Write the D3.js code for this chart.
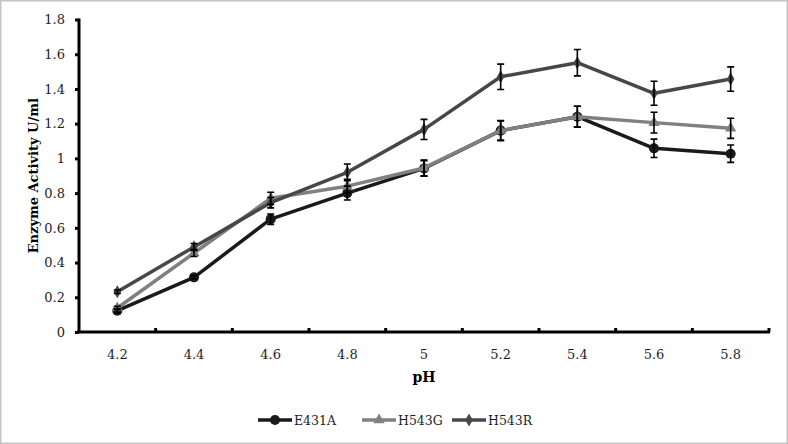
<!DOCTYPE html>
<html>

<head>
  <title>Enzyme activity vs pH</title>
  <script src="https://cdn.jsdelivr.net/npm/d3@7"></script>
  <style>
    body { margin: 0; background: #fff; }
    text { font-family: "DejaVu Serif", serif; }
  </style>
</head>

<body>
  <svg width="788" height="444" id="mainsvg"></svg>
  <script>
    const phs = ['4.2', '4.4', '4.6', '4.8', '5', '5.2', '5.4', '5.6', '5.8'];
    const yTicks = [0, 0.2, 0.4, 0.6, 0.8, 1, 1.2, 1.4, 1.6, 1.8];
    const seriesNames = ['E431A', 'H543G', 'H543R'];

    const e431a = [0.123, 0.315, 0.65, 0.80, 0.942, 1.16, 1.24, 1.058, 1.027];
    const e431aErr = [0.01, 0.01, 0.03, 0.04, 0.045, 0.055, 0.06, 0.053, 0.05];
    const h543g = [0.138, 0.455, 0.77, 0.84, 0.945, 1.16, 1.24, 1.206, 1.173];
    const h543gErr = [0.01, 0.02, 0.035, 0.04, 0.046, 0.058, 0.06, 0.06, 0.058];
    const h543r = [0.232, 0.49, 0.745, 0.92, 1.167, 1.47, 1.551, 1.375, 1.457];
    const h543rErr = [0.01, 0.02, 0.03, 0.048, 0.058, 0.073, 0.076, 0.069, 0.07];

    const colors = ['#1a1a1a', '#808080', '#474747'];
    const symbols = [d3.symbolCircle, d3.symbolTriangle, d3.symbolDiamond];
    const symSizes = [80, 55, 50];

    const svg = d3.select('#mainsvg');
    const width = +svg.attr('width');
    const height = +svg.attr('height');

    svg.append('rect')
      .attr('x', 0.75).attr('y', 0.75)
      .attr('width', width - 1.5).attr('height', height - 1.5)
      .attr('fill', '#fff').attr('stroke', '#c4c4c4').attr('stroke-width', 1.5);

    const pLeft = 79, pRight = 769, pTop = 19.5, pBottom = 332;

    const x = d3.scaleBand().domain(phs).range([pLeft, pRight]);
    const y = d3.scaleLinear().domain([0, 1.8]).range([pBottom, pTop]);

    // y axis
    const yAxis = svg.append('g')
      .attr('transform', `translate(${pLeft},0)`)
      .call(d3.axisLeft(y).tickValues(yTicks).tickSize(4).tickPadding(10)
        .tickFormat(d => String(+d.toFixed(1))));
    yAxis.select('.domain').attr('stroke', '#000').attr('stroke-width', 3)
      .attr('d', `M0,${pTop - 1}V${pBottom}`);
    yAxis.selectAll('.tick line').attr('stroke', '#000').attr('stroke-width', 3);
    yAxis.selectAll('.tick text').attr('font-size', 13).attr('fill', '#1e1e1e')
      .attr('font-family', '"DejaVu Serif", serif');

    // x axis
    const xAxis = svg.append('g')
      .attr('transform', `translate(0,${pBottom})`)
      .call(d3.axisBottom(x).tickSize(0).tickPadding(18));
    xAxis.select('.domain').attr('stroke', '#000').attr('stroke-width', 3)
      .attr('d', `M${pLeft - 2},0H${pRight + 1}`);
    xAxis.selectAll('.tick text').attr('font-size', 13).attr('fill', '#1e1e1e')
      .attr('font-family', '"DejaVu Serif", serif');
    xAxis.selectAll('.bnd')
      .data(phs.map(p => x(p) + x.bandwidth()))
      .join('line')
      .attr('class', 'bnd')
      .attr('x1', d => d).attr('x2', d => d)
      .attr('y1', -4).attr('y2', 0)
      .attr('stroke', '#000').attr('stroke-width', 3);

    // axis titles
    svg.append('text')
      .attr('transform', `translate(38,${(pTop + pBottom) / 2}) rotate(-90)`)
      .attr('text-anchor', 'middle')
      .attr('font-weight', 'bold').attr('font-size', 13)
      .text('Enzyme Activity U/ml');
    svg.append('text')
      .attr('x', (pLeft + pRight) / 2).attr('y', 382)
      .attr('text-anchor', 'middle')
      .attr('font-weight', 'bold').attr('font-size', 14)
      .text('pH');

    const series = [
      { name: seriesNames[0], vals: e431a, err: e431aErr },
      { name: seriesNames[1], vals: h543g, err: h543gErr },
      { name: seriesNames[2], vals: h543r, err: h543rErr }
    ];
    const cx = p => x(p) + x.bandwidth() / 2;

    const line = d3.line().x((d, i) => cx(phs[i])).y(d => y(d));

    series.forEach((s, k) => {
      const g = svg.append('g');
      g.append('path')
        .attr('d', line(s.vals))
        .attr('fill', 'none')
        .attr('stroke', colors[k])
        .attr('stroke-width', 3.5)
        .attr('stroke-linejoin', 'round');
      g.selectAll('.mark')
        .data(s.vals)
        .join('path')
        .attr('class', 'mark')
        .attr('transform', (d, i) => `translate(${cx(phs[i])},${y(d)})`)
        .attr('d', d3.symbol().type(symbols[k]).size(symSizes[k]))
        .attr('fill', colors[k]);
    });

    // error bars on top
    series.forEach(s => {
      const g = svg.append('g');
      s.vals.forEach((v, i) => {
        const e = s.err[i];
        const xx = cx(phs[i]);
        const y1 = y(v + e), y2 = y(v - e);
        g.append('path')
          .attr('d', `M${xx},${y1}V${y2}M${xx - 3.5},${y1}H${xx + 3.5}M${xx - 3.5},${y2}H${xx + 3.5}`)
          .attr('stroke', '#000').attr('stroke-width', 1.6).attr('fill', 'none');
      });
    });

    // legend
    const legendX = [258, 362, 452];
    const legend = svg.append('g').attr('transform', 'translate(0,420)');
    series.forEach((s, k) => {
      const lg = legend.append('g').attr('transform', `translate(${legendX[k]},0)`);
      lg.append('line').attr('x1', 0).attr('x2', 34).attr('y1', 0).attr('y2', 0)
        .attr('stroke', colors[k]).attr('stroke-width', 3.5);
      lg.append('path').attr('transform', 'translate(17,0)')
        .attr('d', d3.symbol().type(symbols[k]).size(symSizes[k])).attr('fill', colors[k]);
      lg.append('text').attr('x', 36).attr('y', 4.5)
        .attr('font-size', 12.5).attr('fill', '#1e1e1e')
        .text(s.name);
    });
  </script>
</body>

</html>
